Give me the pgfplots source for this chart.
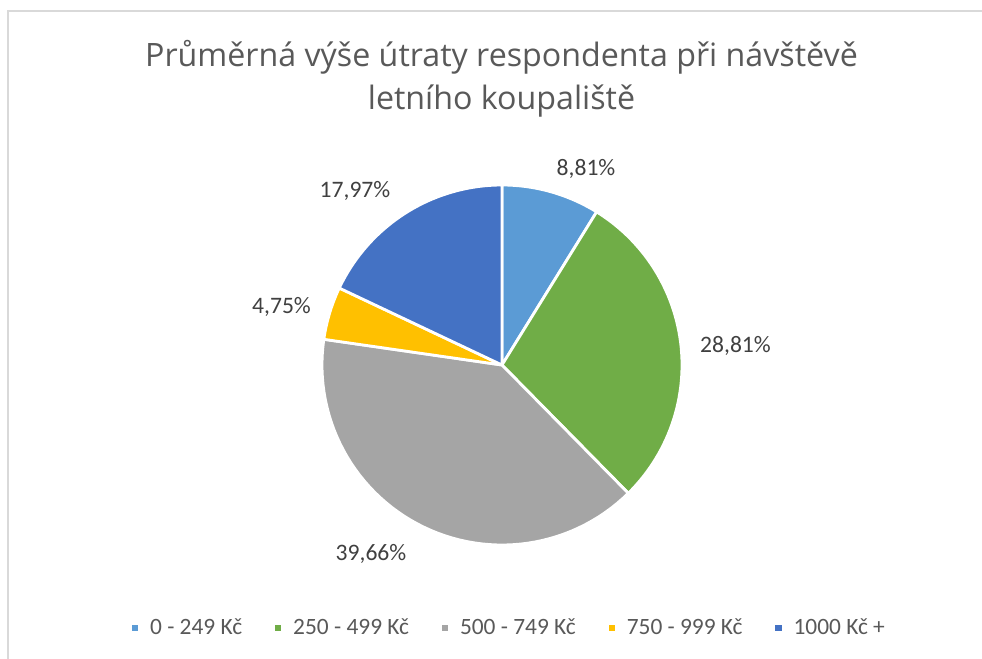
\documentclass[border=0pt]{standalone}
\usepackage{pgfplots}
\pgfplotsset{compat=1.18}
\usepackage{fontspec}
\setmainfont{Carlito}
\newfontfamily\titlefont{Open Sans}
\definecolor{s1}{HTML}{5B9BD5}
\definecolor{s2}{HTML}{70AD47}
\definecolor{s3}{HTML}{A5A5A5}
\definecolor{s4}{HTML}{FFC000}
\definecolor{s5}{HTML}{4472C4}
\definecolor{titlegray}{HTML}{595959}
\definecolor{labgray}{HTML}{404040}
\definecolor{framegray}{HTML}{D9D9D9}
% shares in percent
\def\va{8.81}
\def\vb{28.81}
\def\vc{39.66}
\def\vd{4.75}
\def\ve{17.97}
\begin{document}
\begin{tikzpicture}
\pgfmathsetmacro{\aa}{90}
\pgfmathsetmacro{\ab}{\aa-3.6*\va}
\pgfmathsetmacro{\ac}{\ab-3.6*\vb}
\pgfmathsetmacro{\ad}{\ac-3.6*\vc}
\pgfmathsetmacro{\ae}{\ad-3.6*\vd}
\pgfmathsetmacro{\af}{\ae-3.6*\ve}
\begin{axis}[
  name=ax,
  scale only axis, width=491pt, height=329.5pt,
  xmin=0, xmax=982, ymin=0, ymax=659, y dir=reverse,
  hide axis, clip=false,
  legend columns=5,
  legend image code/.code={\fill[#1] (0pt,-2.3pt) rectangle (4.6pt,2.3pt);},
  legend style={at={(axis cs:507,628)}, anchor=center, draw=none, fill=none,
    font=\fontsize{11.7}{14}\selectfont, text=titlegray,
    nodes={inner sep=0pt},
    /tikz/every odd column/.append style={column sep=4.5pt},
    /tikz/every even column/.append style={column sep=15pt}},
  slice/.style={draw=white, line width=1.4pt, line join=round, samples=60},
]
\draw[framegray, line width=0.8pt] (axis cs:8,700) -- (axis cs:8,11) -- (axis cs:1000,11);
\addplot[slice, fill=s1, domain=\ab:\aa] ({502+180*cos(x)},{365-180*sin(x)}) -- (axis cs:502,365) -- cycle;
\addlegendentry{0 - 249 Kč}
\addplot[slice, fill=s2, domain=\ac:\ab] ({502+180*cos(x)},{365-180*sin(x)}) -- (axis cs:502,365) -- cycle;
\addlegendentry{250 - 499 Kč}
\addplot[slice, fill=s3, domain=\ad:\ac] ({502+180*cos(x)},{365-180*sin(x)}) -- (axis cs:502,365) -- cycle;
\addlegendentry{500 - 749 Kč}
\addplot[slice, fill=s4, domain=\ae:\ad] ({502+180*cos(x)},{365-180*sin(x)}) -- (axis cs:502,365) -- cycle;
\addlegendentry{750 - 999 Kč}
\addplot[slice, fill=s5, domain=\af:\ae] ({502+180*cos(x)},{365-180*sin(x)}) -- (axis cs:502,365) -- cycle;
\addlegendentry{1000 Kč +}
\begin{scope}[every node/.style={anchor=base, inner sep=0pt, text=labgray, font=\fontsize{11.8}{14}\selectfont}]
\node at (axis cs:586,175) {8,81\%};
\node at (axis cs:735.5,352) {28,81\%};
\node at (axis cs:371,560) {39,66\%};
\node at (axis cs:281.5,313) {4,75\%};
\node at (axis cs:355,197) {17,97\%};
\end{scope}
\begin{scope}[every node/.style={anchor=base, inner sep=0pt, text=titlegray, font=\titlefont\fontsize{16.1}{19}\selectfont}]
\node at (axis cs:501.5,66) {Průměrná výše útraty respondenta při návštěvě};
\node at (axis cs:501.5,109) {letního koupaliště};
\end{scope}
\end{axis}
\pgfresetboundingbox
\path (ax.south west) rectangle (ax.north east);
\end{tikzpicture}
\end{document}
